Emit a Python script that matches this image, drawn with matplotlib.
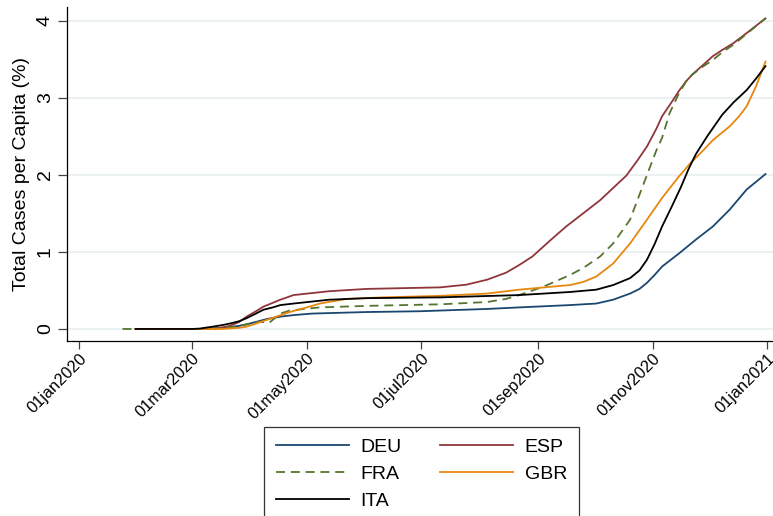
"""Cumulative COVID-19 cases per capita for five European countries, 2020."""

import matplotlib.pyplot as plt
import pandas as pd

plt.rcParams["font.family"] = ["Liberation Sans", "DejaVu Sans"]

# Total cases per capita (%), read at selected dates
DEU_DATES = [
    "2020-01-31", "2020-03-05", "2020-03-17", "2020-03-26", "2020-03-30", "2020-04-10",
    "2020-04-17", "2020-04-24", "2020-05-04", "2020-06-02", "2020-06-30", "2020-08-05",
    "2020-08-22", "2020-09-18", "2020-10-02", "2020-10-11", "2020-10-20", "2020-10-25",
    "2020-10-29", "2020-11-02", "2020-11-06", "2020-11-15", "2020-11-24", "2020-12-03",
    "2020-12-12", "2020-12-21", "2020-12-31",
]
DEU = [
    0.0, 0.0, 0.01, 0.04, 0.06, 0.13, 0.16, 0.18, 0.20, 0.22, 0.23, 0.26, 0.28, 0.31,
    0.33, 0.38, 0.46, 0.52, 0.60, 0.70, 0.81, 0.98, 1.16, 1.33, 1.55, 1.81, 2.01,
]

ESP_DATES = [
    "2020-01-31", "2020-03-05", "2020-03-12", "2020-03-17", "2020-03-21", "2020-03-26",
    "2020-03-30", "2020-04-04", "2020-04-08", "2020-04-13", "2020-04-17", "2020-04-24",
    "2020-05-13", "2020-06-02", "2020-07-11", "2020-07-25", "2020-08-05", "2020-08-15",
    "2020-08-22", "2020-08-29", "2020-09-03", "2020-09-08", "2020-09-16", "2020-09-25",
    "2020-10-04", "2020-10-11", "2020-10-18", "2020-10-24", "2020-10-29", "2020-11-03",
    "2020-11-06", "2020-11-11", "2020-11-15", "2020-11-19", "2020-11-22", "2020-11-28",
    "2020-12-03", "2020-12-08", "2020-12-14", "2020-12-21", "2020-12-31",
]
ESP = [
    0.0, 0.0, 0.005, 0.02, 0.04, 0.09, 0.16, 0.23, 0.29, 0.34, 0.38, 0.44, 0.49, 0.52,
    0.54, 0.575, 0.64, 0.73, 0.83, 0.94, 1.05, 1.16, 1.33, 1.50, 1.67, 1.83, 1.99, 2.19,
    2.37, 2.60, 2.76, 2.94, 3.09, 3.22, 3.30, 3.43, 3.54, 3.62, 3.71, 3.84, 4.03,
]

FRA_DATES = [
    "2020-01-24", "2020-03-05", "2020-03-17", "2020-03-26", "2020-03-30", "2020-04-06",
    "2020-04-09", "2020-04-11", "2020-04-14", "2020-04-17", "2020-04-22", "2020-05-08",
    "2020-06-02", "2020-07-11", "2020-08-05", "2020-08-15", "2020-08-22", "2020-09-04",
    "2020-09-18", "2020-09-25", "2020-10-04", "2020-10-11", "2020-10-16", "2020-10-20",
    "2020-10-24", "2020-10-29", "2020-11-03", "2020-11-06", "2020-11-10", "2020-11-15",
    "2020-11-19", "2020-11-22", "2020-11-28", "2020-12-03", "2020-12-08", "2020-12-14",
    "2020-12-21", "2020-12-31",
]
FRA = [
    0.0, 0.0, 0.01, 0.04, 0.06, 0.095, 0.085, 0.08, 0.14, 0.20, 0.24, 0.28, 0.30, 0.32,
    0.35, 0.39, 0.44, 0.55, 0.70, 0.79, 0.94, 1.11, 1.28, 1.42, 1.68, 2.00, 2.32, 2.48,
    2.80, 3.06, 3.22, 3.30, 3.41, 3.49, 3.59, 3.69, 3.83, 4.03,
]

GBR_DATES = [
    "2020-01-31", "2020-03-05", "2020-03-17", "2020-03-26", "2020-03-30", "2020-04-04",
    "2020-04-10", "2020-04-16", "2020-04-22", "2020-05-01", "2020-05-08", "2020-05-22",
    "2020-06-10", "2020-07-11", "2020-08-05", "2020-08-22", "2020-09-18", "2020-09-25",
    "2020-10-02", "2020-10-11", "2020-10-20", "2020-10-29", "2020-11-06", "2020-11-15",
    "2020-11-21", "2020-11-28", "2020-12-03", "2020-12-12", "2020-12-17", "2020-12-21",
    "2020-12-26", "2020-12-31",
]
GBR = [
    0.0, 0.0, 0.0, 0.015, 0.03, 0.07, 0.12, 0.17, 0.22, 0.28, 0.33, 0.39, 0.41, 0.43,
    0.46, 0.51, 0.57, 0.61, 0.68, 0.85, 1.11, 1.42, 1.70, 1.98, 2.15, 2.32, 2.45, 2.63,
    2.76, 2.89, 3.15, 3.47,
]

ITA_DATES = [
    "2020-01-31", "2020-03-01", "2020-03-05", "2020-03-12", "2020-03-17", "2020-03-21",
    "2020-03-26", "2020-03-30", "2020-04-04", "2020-04-08", "2020-04-13", "2020-04-17",
    "2020-04-24", "2020-05-13", "2020-06-02", "2020-07-11", "2020-08-22", "2020-09-18",
    "2020-10-02", "2020-10-11", "2020-10-20", "2020-10-25", "2020-10-29", "2020-11-02",
    "2020-11-06", "2020-11-11", "2020-11-16", "2020-11-20", "2020-11-24", "2020-11-30",
    "2020-12-08", "2020-12-14", "2020-12-21", "2020-12-26", "2020-12-31",
]
ITA = [
    0.0, 0.0, 0.005, 0.03, 0.05, 0.07, 0.10, 0.14, 0.20, 0.25, 0.28, 0.31, 0.33, 0.38,
    0.40, 0.41, 0.44, 0.48, 0.51, 0.57, 0.66, 0.76, 0.90, 1.10, 1.33, 1.58, 1.84, 2.07,
    2.27, 2.50, 2.78, 2.94, 3.10, 3.25, 3.41,
]

TICK_DATES = [
    "2020-01-01", "2020-03-01", "2020-05-01", "2020-07-01",
    "2020-09-01", "2020-11-01", "2021-01-01",
]
TICK_LABELS = [
    "01jan2020", "01mar2020", "01may2020", "01jul2020",
    "01sep2020", "01nov2020", "01jan2021",
]
Y_TICKS = [0, 1, 2, 3, 4]

SERIES = [
    ("DEU", DEU_DATES, DEU, "#1a476f", "-"),
    ("ESP", ESP_DATES, ESP, "#90353b", "-"),
    ("FRA", FRA_DATES, FRA, "#55752f", (0, (5, 3.2))),
    ("GBR", GBR_DATES, GBR, "#e8870e", "-"),
    ("ITA", ITA_DATES, ITA, "#000000", "-"),
]

W, H = 773, 516
fig = plt.figure(figsize=(W / 100, H / 100), dpi=100)
ax = fig.add_axes([67 / W, 1 - 341 / H, (W - 67) / W, (341 - 7) / H])

lines = {}
for name, dates, values, color, style in SERIES:
    (ln,) = ax.plot(
        pd.to_datetime(dates), values, color=color, linestyle=style, linewidth=1.3, label=name
    )
    lines[name] = ln

start = pd.Timestamp("2020-01-01")
ax.set_xlim(start - pd.Timedelta(days=6.5), start + pd.Timedelta(days=369))
ax.set_ylim(-0.156, 4.178)

ax.set_xticks(pd.to_datetime(TICK_DATES))
ax.set_xticklabels(TICK_LABELS)
ax.set_yticks(Y_TICKS)
ax.set_yticklabels([str(v) for v in Y_TICKS])

ax.tick_params(axis="x", length=5.5, width=0.9, color="#444444", labelsize=11.8, pad=1.5)
ax.tick_params(axis="y", length=6.5, width=0.9, color="#444444", labelsize=14, pad=3)
plt.setp(ax.get_xticklabels(), rotation=45, ha="right", va="top", rotation_mode="anchor")
plt.setp(ax.get_yticklabels(), rotation=90, va="center")

ax.yaxis.grid(True, color="#e9eff1", linewidth=1.3)
ax.set_axisbelow(True)

for side in ("top", "right"):
    ax.spines[side].set_visible(False)
for side in ("left", "bottom"):
    ax.spines[side].set_linewidth(0.9)

ax.set_ylabel("Total Cases per Capita (%)", fontsize=14)
ax.yaxis.set_label_coords((30 - 67) / (W - 67), 0.5)

legend_order = ["DEU", "FRA", "ITA", "ESP", "GBR"]
leg = fig.legend(
    handles=[lines[n] for n in legend_order],
    labels=legend_order,
    ncol=2,
    loc="upper left",
    bbox_to_anchor=(264 / W, 1 - 427 / H),
    bbox_transform=fig.transFigure,
    fontsize=14,
    frameon=True,
    fancybox=False,
    handlelength=3.75,
    handletextpad=0.6,
    columnspacing=2.0,
    labelspacing=0.47,
    borderpad=0.6,
    borderaxespad=0,
)
leg.get_frame().set_edgecolor("black")
leg.get_frame().set_linewidth(0.9)

fig.savefig("out.png", dpi=100)
